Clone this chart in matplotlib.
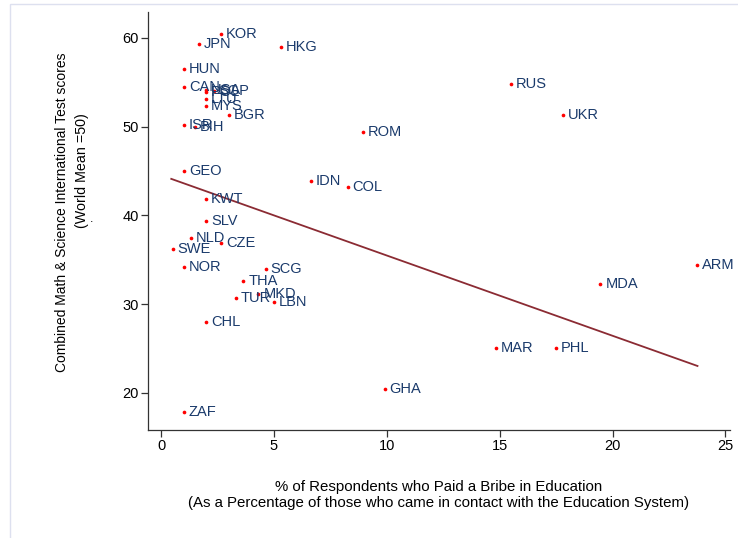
import numpy as np
import matplotlib
matplotlib.use("Agg")
import matplotlib.pyplot as plt
from matplotlib.patches import Rectangle

plt.rcParams['font.family'] = ['Liberation Sans', 'DejaVu Sans']

countries = ["KOR", "JPN", "HKG", "HUN", "CAN", "USA", "SGP", "POL", "LTU", "MYS",
             "BGR", "ISR", "BIH", "GEO", "IDN", "COL", "KWT", "SLV", "NLD", "CZE",
             "SWE", "NOR", "SCG", "THA", "TUR", "MKD", "LBN", "CHL", "ZAF", "RUS",
             "UKR", "ROM", "ARM", "MDA", "MAR", "PHL", "GHA"]
bribe_pct = [2.66, 1.68, 5.30, 1.02, 1.02, 1.99, 2.33, 1.99, 1.99, 1.99,
             3.00, 1.02, 1.51, 1.02, 6.62, 8.26, 1.99, 1.99, 1.34, 2.66,
             0.52, 1.02, 4.64, 3.65, 3.32, 4.31, 4.98, 1.99, 1.02, 15.51,
             17.81, 8.94, 23.74, 19.46, 14.83, 17.49, 9.91]
test_score = [60.40, 59.30, 59.00, 56.50, 54.45, 54.14, 54.03, 53.84, 53.05, 52.26,
              51.29, 50.12, 49.97, 45.01, 43.85, 43.18, 41.83, 39.42, 37.46, 36.90,
              36.23, 34.16, 34.00, 32.65, 30.70, 31.12, 30.25, 28.03, 17.86, 54.82,
              51.25, 49.44, 34.46, 32.32, 25.10, 25.10, 20.48]

# fitted values of the linear trend at its two end points
fit_x = [0.45, 23.76]
fit_y = [44.11, 23.04]

x_ticks = [0, 5, 10, 15, 20, 25]
y_ticks = [20, 30, 40, 50, 60]

navy = "#1a3a6b"
maroon = "#8b2b33"

W, H = 738, 538
fig = plt.figure(figsize=(W / 100, H / 100), dpi=100)
fig.patches.append(Rectangle((10 / W, -0.1), 1.2, 1 - 4 / H + 0.1,
                             transform=fig.transFigure, fill=False,
                             edgecolor="#dde0ef", linewidth=1.0))

ax = fig.add_axes([148 / W, 1 - 430 / H, (730 - 148) / W, (430 - 12) / H])
ax.set_xlim(-0.58, 25.2)
ax.set_ylim(15.83, 62.9)

ax.plot(fit_x, fit_y, color=maroon, linewidth=1.3, zorder=2)

ax.scatter(bribe_pct, test_score, s=7, color="#ff0000", zorder=3, linewidths=0)
for name, xi, yi in zip(countries, bribe_pct, test_score):
    ax.annotate(name, (xi, yi), xytext=(3.5, 0), textcoords="offset points",
                ha="left", va="center", fontsize=10.5, color=navy, zorder=4)

for side in ("top", "right"):
    ax.spines[side].set_visible(False)
for side in ("left", "bottom"):
    ax.spines[side].set_color("#333333")
    ax.spines[side].set_linewidth(0.9)

ax.set_xticks(x_ticks)
ax.set_yticks(y_ticks)
ax.tick_params(axis="both", direction="out", length=5, width=0.9, color="#333333",
               labelsize=10.5, labelcolor="#000000", pad=1.5)

ax.set_xlabel("% of Respondents who Paid a Bribe in Education\n"
              "(As a Percentage of those who came in contact with the Education System)",
              fontsize=10.8, labelpad=19.5, linespacing=1.2)

# y axis title lines
fig.text(62 / W, 1 - 212 / H, "Combined Math & Science International Test scores",
         rotation=90, fontsize=10, ha="center", va="center")
fig.text(82 / W, 1 - 171 / H, "(World Mean =50)",
         rotation=90, fontsize=10.3, ha="center", va="center")
fig.text(92 / W, 1 - 219 / H, ".", fontsize=9, ha="center", va="center")

fig.savefig("out.png", dpi=100)
